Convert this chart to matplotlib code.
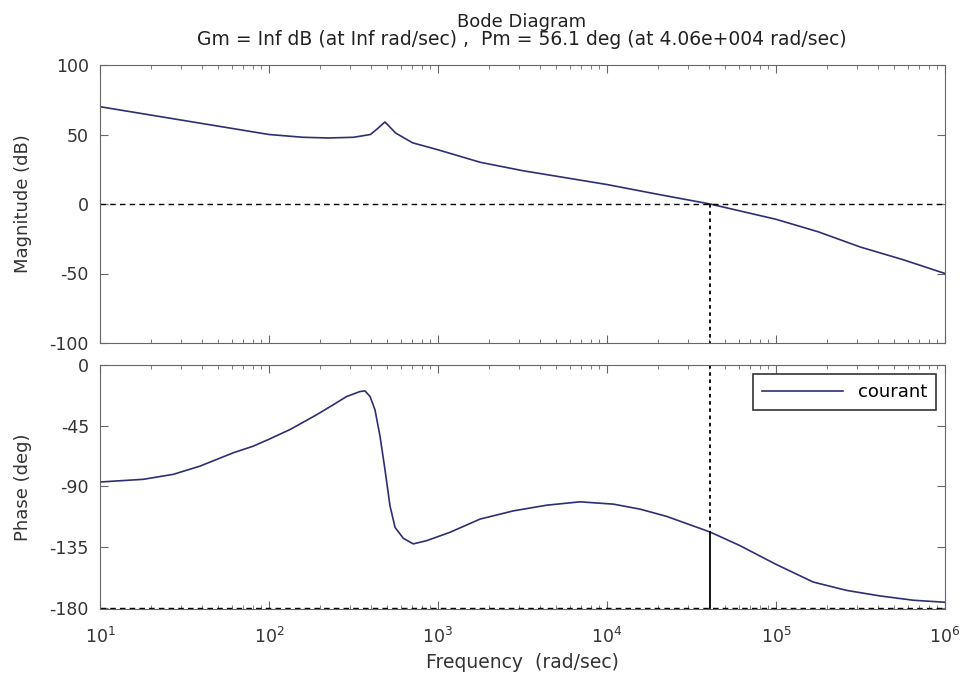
import numpy as np
from matplotlib import pyplot as plt
from matplotlib.ticker import LogLocator, NullFormatter, FixedLocator

plt.rcParams['font.family'] = ['DejaVu Sans']
plt.rcParams['mathtext.fontset'] = 'dejavusans'
plt.rcParams['axes.unicode_minus'] = False

# magnitude (log10 of frequency, dB)
mag_logw = [1.0, 1.3, 1.6, 2.0, 2.2, 2.35, 2.5, 2.6, 2.64, 2.686, 2.75, 2.85, 3.0,
            3.25, 3.5, 3.75, 4.0, 4.3, 4.61, 5.0, 5.25, 5.5, 5.75, 6.0]
mag_db = [70, 64, 58, 50, 48, 47.5, 48, 50, 54, 59, 51, 44, 39,
          30, 24, 19, 14, 7, 0, -11, -20, -31, -40, -50]

# phase (log10 of frequency, deg)
ph_logw = [1.0, 1.256, 1.434, 1.592, 1.789, 1.907, 1.996, 2.124, 2.282, 2.38, 2.459,
           2.538, 2.568, 2.598, 2.627, 2.657, 2.686, 2.716, 2.746, 2.795, 2.854, 2.933,
           3.071, 3.249, 3.446, 3.643, 3.84, 4.037, 4.195, 4.353, 4.61, 4.787, 4.994,
           5.22, 5.418, 5.615, 5.812, 6.0]
ph_deg = [-86.8, -84.8, -81.1, -75.0, -65.1, -60.2, -55.3, -47.9, -36.9, -29.5, -23.4,
          -19.7, -19.2, -23.4, -33.2, -52.9, -77.4, -104.5, -120.5, -128.6, -132.7, -130.3,
          -124.1, -114.3, -108.2, -104, -101.5, -103.2, -106.9, -112.3, -123.9, -134, -147.5,
          -161, -167.2, -171.3, -174.5, -176]

w_c = 4.06e4
pm_phase = -123.9
title1 = "Bode Diagram"
title2 = "Gm = Inf dB (at Inf rad/sec) ,  Pm = 56.1 deg (at 4.06e+004 rad/sec)"

line_col = '#2e2e72'
grey = '#666666'
txt = '#333333'

fig = plt.figure(figsize=(9.6, 6.79), dpi=100)
ax1 = fig.add_axes([100 / 960, 1 - 343 / 679, 845 / 960, 278 / 679])
ax2 = fig.add_axes([100 / 960, 1 - 609 / 679, 845 / 960, 244 / 679])

ax1.plot(10 ** np.array(mag_logw), mag_db, color=line_col, lw=1.2)
ax1.axhline(0, color='black', ls=(0, (4, 3)), lw=1)
ax1.plot([w_c, w_c], [0, -100], color='black', ls=(0, (2, 2)), lw=1.3)

ax2.plot(10 ** np.array(ph_logw), ph_deg, color=line_col, lw=1.2, label='courant')
ax2.axhline(-180, color='black', ls=(0, (4, 3)), lw=1)
ax2.plot([w_c, w_c], [0, pm_phase], color='black', ls=(0, (2, 2)), lw=1.3)
ax2.plot([w_c, w_c], [pm_phase, -180], color='black', lw=1.3)

for ax in (ax1, ax2):
    ax.set_xscale('log')
    ax.set_xlim(10, 1e6)
    ax.xaxis.set_major_locator(LogLocator(base=10, numticks=10))
    ax.xaxis.set_minor_locator(LogLocator(base=10, subs=np.arange(2, 10), numticks=20))
    ax.xaxis.set_minor_formatter(NullFormatter())
    ax.tick_params(which='both', direction='in', top=True, right=True, colors=grey,
                   labelcolor=txt, labelsize=12.5)
    ax.tick_params(which='major', length=6)
    ax.tick_params(which='minor', length=3)
    ax.tick_params(axis='y', pad=8)
    ax.tick_params(axis='x', pad=13)
    for s in ax.spines.values():
        s.set_color(grey)

ax1.set_ylim(-100, 100)
ax1.yaxis.set_major_locator(FixedLocator([-100, -50, 0, 50, 100]))
ax1.set_xticklabels([])
ax1.set_ylabel("Magnitude (dB)", fontsize=13, color=txt)

ax2.set_ylim(-181, 0)
ax2.yaxis.set_major_locator(FixedLocator([0, -45, -90, -135, -180]))
ax2.set_ylabel("Phase (deg)", fontsize=13, color=txt)
ax2.set_xlabel("Frequency  (rad/sec)", fontsize=13.5, color=txt, labelpad=4)
ax1.yaxis.set_label_coords(-68 / 845, 0.5)
ax2.yaxis.set_label_coords(-68 / 845, 0.5)

leg = ax2.legend(loc='upper right', fontsize=13, frameon=True, fancybox=False,
                 handlelength=4.5, borderaxespad=0.5, borderpad=0.5)
leg.get_frame().set_edgecolor('black')
leg.get_frame().set_linewidth(1.2)

fig.text(522 / 960, 1 - 27 / 679, title1, ha='center', va='baseline', fontsize=13, color='#222222')
fig.text(522 / 960, 1 - 45 / 679, title2, ha='center', va='baseline', fontsize=13.5, color='#222222')

fig.savefig('out.png', dpi=100)
